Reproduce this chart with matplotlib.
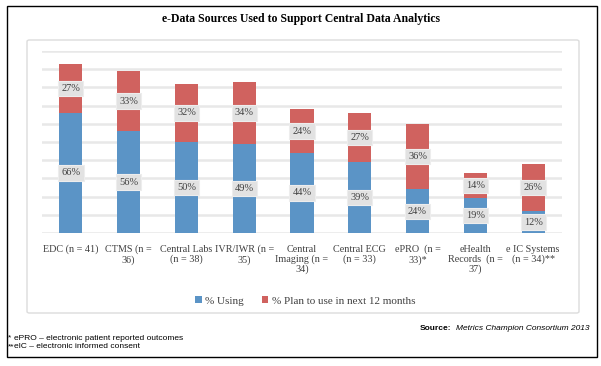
import matplotlib
matplotlib.use("Agg")
from matplotlib import pyplot as plt
from matplotlib.patches import Rectangle, FancyBboxPatch
import numpy as np

# data
categories = ["EDC (n = 41)", "CTMS (n =\n36)", "Central Labs\n(n = 38)", "IVR/IWR (n =\n35)",
              "Central\nImaging (n =\n34)", "Central ECG\n(n = 33)", "ePRO  (n =\n33)*",
              "eHealth\nRecords  (n =\n37)", "e IC Systems\n(n = 34)**"]
using = [66, 56, 50, 49, 44, 39, 24, 19, 12]
plan = [27, 33, 32, 34, 24, 27, 36, 14, 26]
series_names = ["% Using", "% Plan to use in next 12 months"]

blue = "#5b94c6"
red = "#d0625f"
serif = "Liberation Serif"

fig = plt.figure(figsize=(6.01, 3.66), dpi=100)
W, H = 601, 366

def fx(x):
    return x / W

def fy(y):
    return 1 - y / H

# outer frame and inner chart box
fig.patches.append(Rectangle((fx(7), fy(357)), fx(590), 351 / H, transform=fig.transFigure,
                             fill=False, edgecolor="black", linewidth=1.0))
fig.patches.append(FancyBboxPatch((fx(27), fy(313)), fx(552), 273 / H, transform=fig.transFigure,
                                  boxstyle="round,pad=0,rounding_size=0.004",
                                  fill=False, edgecolor="#dcdcdc", linewidth=1.0))

ax = fig.add_axes([fx(42), fy(233), fx(520), 182 / H])
x = np.arange(len(categories))
b1 = ax.bar(x, using, width=0.4, color=blue, label=series_names[0], zorder=3)
b2 = ax.bar(x, plan, width=0.4, bottom=using, color=red, label=series_names[1], zorder=3)

ax.set_xlim(-0.5, len(categories) - 0.5)
ax.set_ylim(0, 100)
ax.set_yticks(np.arange(0, 101, 10))
ax.yaxis.grid(True, color="#e8e8e8", linewidth=1.8, zorder=0)
ax.set_axisbelow(True)
ax.tick_params(axis="y", left=False, labelleft=False)
ax.tick_params(axis="x", bottom=False, pad=5)
for s in ax.spines.values():
    s.set_visible(False)
ax.set_xticks(x)
ax.set_xticklabels(categories, fontsize=7.3, family=serif, color="#404040", linespacing=1.1, va="top")

box = dict(boxstyle="square,pad=0.3", facecolor="#e2e2e2", edgecolor="#ededed", linewidth=0.8)
for i in range(len(categories)):
    ax.text(x[i], using[i] / 2, f"{using[i]}%", ha="center", va="center", fontsize=7.5,
            family=serif, color="#404040", bbox=box, zorder=5)
    ax.text(x[i], using[i] + plan[i] / 2, f"{plan[i]}%", ha="center", va="center", fontsize=7.5,
            family=serif, color="#404040", bbox=box, zorder=5)

fig.legend(handles=[b1, b2], loc="center", bbox_to_anchor=(fx(305), fy(301)), ncol=2,
           frameon=False, prop={"family": serif, "size": 8}, handlelength=0.6, handleheight=0.6,
           handletextpad=0.3, columnspacing=1.6, labelcolor="#404040")

fig.text(fx(301), fy(19), "e-Data Sources Used to Support Central Data Analytics", ha="center",
         va="center", fontsize=8.5, fontweight="bold", family=serif)

src = fig.text(fx(589), fy(329), "Metrics Champion Consortium 2013", ha="right", va="center",
               fontsize=6, style="italic", family="Liberation Sans")
fig.canvas.draw()
bb = src.get_window_extent(fig.canvas.get_renderer())
fig.text(bb.x0 / fig.bbox.width - fx(4), fy(329), "Source:", ha="right", va="center", fontsize=6,
         fontweight="bold", family="Liberation Sans")
fig.text(fx(8), fy(338), "*", ha="left", va="center", fontsize=6, family="Liberation Sans")
fig.text(fx(14), fy(338), "ePRO – electronic patient reported outcomes", ha="left", va="center",
         fontsize=6, family="Liberation Sans")
fig.text(fx(8), fy(347), "**", ha="left", va="center", fontsize=6, family="Liberation Sans")
fig.text(fx(14), fy(347), "eIC – electronic informed consent", ha="left", va="center",
         fontsize=6, family="Liberation Sans")

fig.savefig("out.png", dpi=100)
